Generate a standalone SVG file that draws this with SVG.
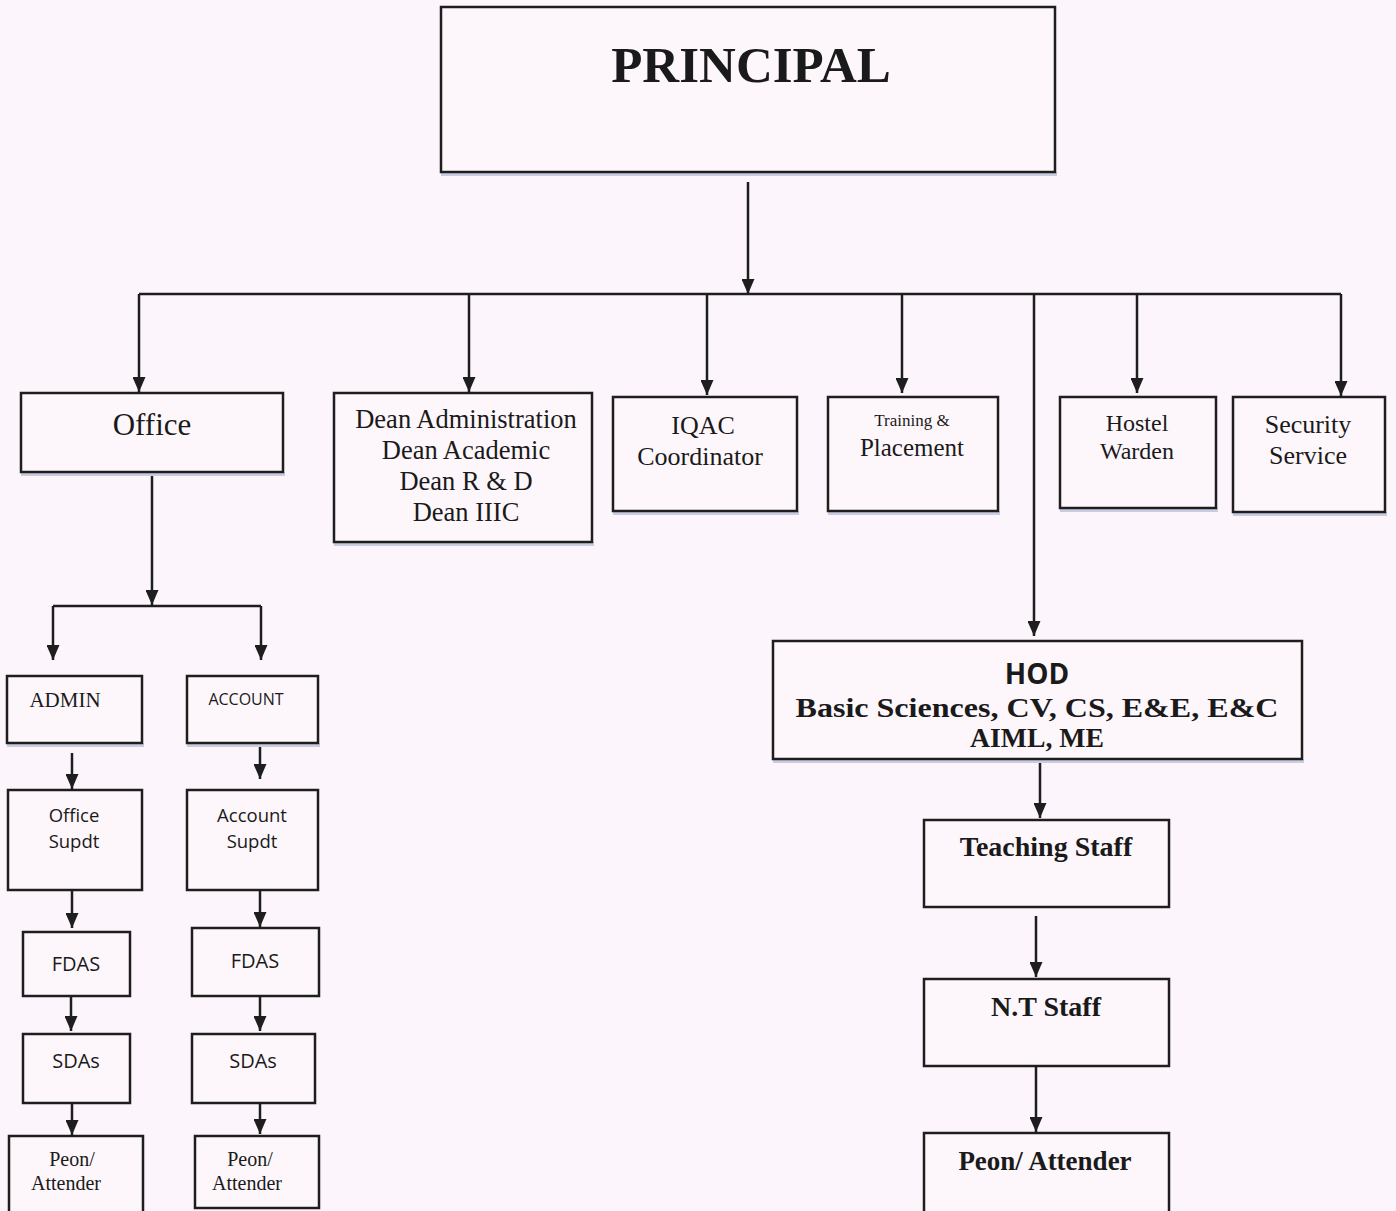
<svg xmlns="http://www.w3.org/2000/svg" width="1396" height="1211" viewBox="0 0 1396 1211">
<defs>
<style>
.bx{fill:#fdf7fc;stroke:#1e1e1e;stroke-width:2.5}
.sh{fill:#c9cbe0}
.ln{stroke:#1e1e1e;stroke-width:2.5;fill:none}
.sf{font-family:"Liberation Serif","Times New Roman",serif;fill:#1a1a1a;text-anchor:middle}
.ss{font-family:"Open Sans","Liberation Sans",sans-serif;fill:#1a1a1a;text-anchor:middle}
.b{font-weight:bold}
</style>
<marker id="ah" viewBox="0 0 15 13" refX="15" refY="6.5" markerWidth="15" markerHeight="13" markerUnits="userSpaceOnUse" orient="auto">
<path d="M0,0 L15,6.5 L0,13 Z" fill="#1e1e1e"/>
</marker>
</defs>
<rect width="1396" height="1211" fill="#fcf5fb"/>

<g id="connectors">
<path class="ln" d="M748,182 V294" marker-end="url(#ah)"/>
<path class="ln" d="M139,294 H1341"/>
<path class="ln" d="M139,294 V392" marker-end="url(#ah)"/>
<path class="ln" d="M469,294 V392" marker-end="url(#ah)"/>
<path class="ln" d="M707,294 V395" marker-end="url(#ah)"/>
<path class="ln" d="M902,294 V393" marker-end="url(#ah)"/>
<path class="ln" d="M1034,294 V636" marker-end="url(#ah)"/>
<path class="ln" d="M1137,294 V393" marker-end="url(#ah)"/>
<path class="ln" d="M1341,294 V396" marker-end="url(#ah)"/>
<path class="ln" d="M152,472 V605" marker-end="url(#ah)"/>
<path class="ln" d="M53,606 H261"/>
<path class="ln" d="M53,606 V660" marker-end="url(#ah)"/>
<path class="ln" d="M261,606 V660" marker-end="url(#ah)"/>
<path class="ln" d="M72,753 V789" marker-end="url(#ah)"/>
<path class="ln" d="M260,743 V779" marker-end="url(#ah)"/>
<path class="ln" d="M72,890 V928" marker-end="url(#ah)"/>
<path class="ln" d="M260,890 V927" marker-end="url(#ah)"/>
<path class="ln" d="M71,996 V1031" marker-end="url(#ah)"/>
<path class="ln" d="M260,996 V1031" marker-end="url(#ah)"/>
<path class="ln" d="M72,1103 V1135" marker-end="url(#ah)"/>
<path class="ln" d="M260,1096 V1134" marker-end="url(#ah)"/>
<path class="ln" d="M1040,759 V818" marker-end="url(#ah)"/>
<path class="ln" d="M1036,916 V977" marker-end="url(#ah)"/>
<path class="ln" d="M1036,1066 V1132" marker-end="url(#ah)"/>
</g>

<g id="principal">
<rect class="sh" x="441" y="172" width="616" height="4"/>
<rect class="bx" x="441" y="7" width="614" height="165"/>
<text class="sf b" x="751" y="82" font-size="51">PRINCIPAL</text>
</g>

<g id="office">
<rect class="sh" x="21" y="472" width="264" height="4" fill="#d9bcc4"/>
<rect class="bx" x="21" y="393" width="262" height="79"/>
<text class="sf" x="152" y="435" font-size="31">Office</text>
</g>

<g id="deans">
<rect class="sh" x="334" y="542" width="260" height="4"/>
<rect class="bx" x="334" y="393" width="258" height="149"/>
<text class="sf" font-size="26.5"><tspan x="466" y="428">Dean Administration</tspan><tspan x="466" y="459">Dean Academic</tspan><tspan x="466" y="490">Dean R &amp; D</tspan><tspan x="466" y="521">Dean IIIC</tspan></text>
</g>

<g id="iqac">
<rect class="sh" x="613" y="511" width="186" height="4"/>
<rect class="bx" x="613" y="397" width="184" height="114"/>
<text class="sf" font-size="26"><tspan x="703" y="434">IQAC</tspan><tspan x="700" y="465">Coordinator</tspan></text>
</g>

<g id="training">
<rect class="sh" x="828" y="511" width="172" height="4"/>
<rect class="bx" x="828" y="397" width="170" height="114"/>
<text class="sf" x="912" y="426" font-size="17">Training &amp;</text>
<text class="sf" x="912" y="456" font-size="25">Placement</text>
</g>

<g id="hostel">
<rect class="sh" x="1060" y="508" width="158" height="4"/>
<rect class="bx" x="1060" y="397" width="156" height="111"/>
<text class="sf" font-size="24"><tspan x="1137" y="431">Hostel</tspan><tspan x="1137" y="459">Warden</tspan></text>
</g>

<g id="security">
<rect class="sh" x="1233" y="512" width="154" height="4"/>
<rect class="bx" x="1233" y="397" width="152" height="115"/>
<text class="sf" font-size="26"><tspan x="1308" y="433">Security</tspan><tspan x="1308" y="464">Service</tspan></text>
</g>

<g id="admin">
<rect class="sh" x="7" y="743" width="137" height="4"/>
<rect class="bx" x="7" y="676" width="135" height="67"/>
<text class="sf" x="65" y="707" font-size="21">ADMIN</text>
</g>

<g id="account">
<rect class="sh" x="187" y="743" width="133" height="4"/>
<rect class="bx" x="187" y="676" width="131" height="67"/>
<text class="ss" x="246" y="705" font-size="16">ACCOUNT</text>
</g>

<g id="office-supdt">
<rect class="bx" x="8" y="790" width="134" height="100"/>
<text class="ss" font-size="18.5"><tspan x="74" y="822">Office</tspan><tspan x="74" y="848">Supdt</tspan></text>
</g>

<g id="account-supdt">
<rect class="bx" x="187" y="790" width="131" height="100"/>
<text class="ss" font-size="18.5"><tspan x="252" y="822">Account</tspan><tspan x="252" y="848">Supdt</tspan></text>
</g>

<g id="fdas-left">
<rect class="bx" x="23" y="932" width="107" height="64"/>
<text class="ss" x="76" y="971" font-size="20">FDAS</text>
</g>

<g id="fdas-right">
<rect class="bx" x="192" y="928" width="127" height="68"/>
<text class="ss" x="255" y="968" font-size="20">FDAS</text>
</g>

<g id="sdas-left">
<rect class="bx" x="23" y="1034" width="107" height="69"/>
<text class="ss" x="76" y="1068" font-size="20">SDAs</text>
</g>

<g id="sdas-right">
<rect class="bx" x="192" y="1034" width="123" height="69"/>
<text class="ss" x="253" y="1068" font-size="20">SDAs</text>
</g>

<g id="peon-left">
<rect class="bx" x="9" y="1136" width="134" height="80"/>
<text class="sf" font-size="20"><tspan x="72" y="1166">Peon/</tspan><tspan x="66" y="1190">Attender</tspan></text>
</g>

<g id="peon-right">
<rect class="bx" x="195" y="1136" width="124" height="72"/>
<text class="sf" font-size="20"><tspan x="250" y="1166">Peon/</tspan><tspan x="247" y="1190">Attender</tspan></text>
</g>

<g id="hod">
<rect class="sh" x="773" y="759" width="531" height="4"/>
<rect class="bx" x="773" y="641" width="529" height="118"/>
<text class="ss b" x="1037" y="684" font-size="28">HOD</text>
<text class="sf b" font-size="27" x="1037" y="717" textLength="483" lengthAdjust="spacingAndGlyphs">Basic Sciences, CV, CS, E&amp;E, E&amp;C</text>
<text class="sf b" font-size="27" x="1037" y="747" textLength="134" lengthAdjust="spacingAndGlyphs">AIML, ME</text>
</g>

<g id="teaching">
<rect class="bx" x="924" y="820" width="245" height="87"/>
<text class="sf b" x="1046" y="856" font-size="28">Teaching Staff</text>
</g>

<g id="ntstaff">
<rect class="bx" x="924" y="979" width="245" height="87"/>
<text class="sf b" x="1046" y="1016" font-size="28">N.T Staff</text>
</g>

<g id="peon-hod">
<rect class="bx" x="924" y="1133" width="245" height="85"/>
<text class="sf b" x="1045" y="1170" font-size="27">Peon/ Attender</text>
</g>
</svg>
